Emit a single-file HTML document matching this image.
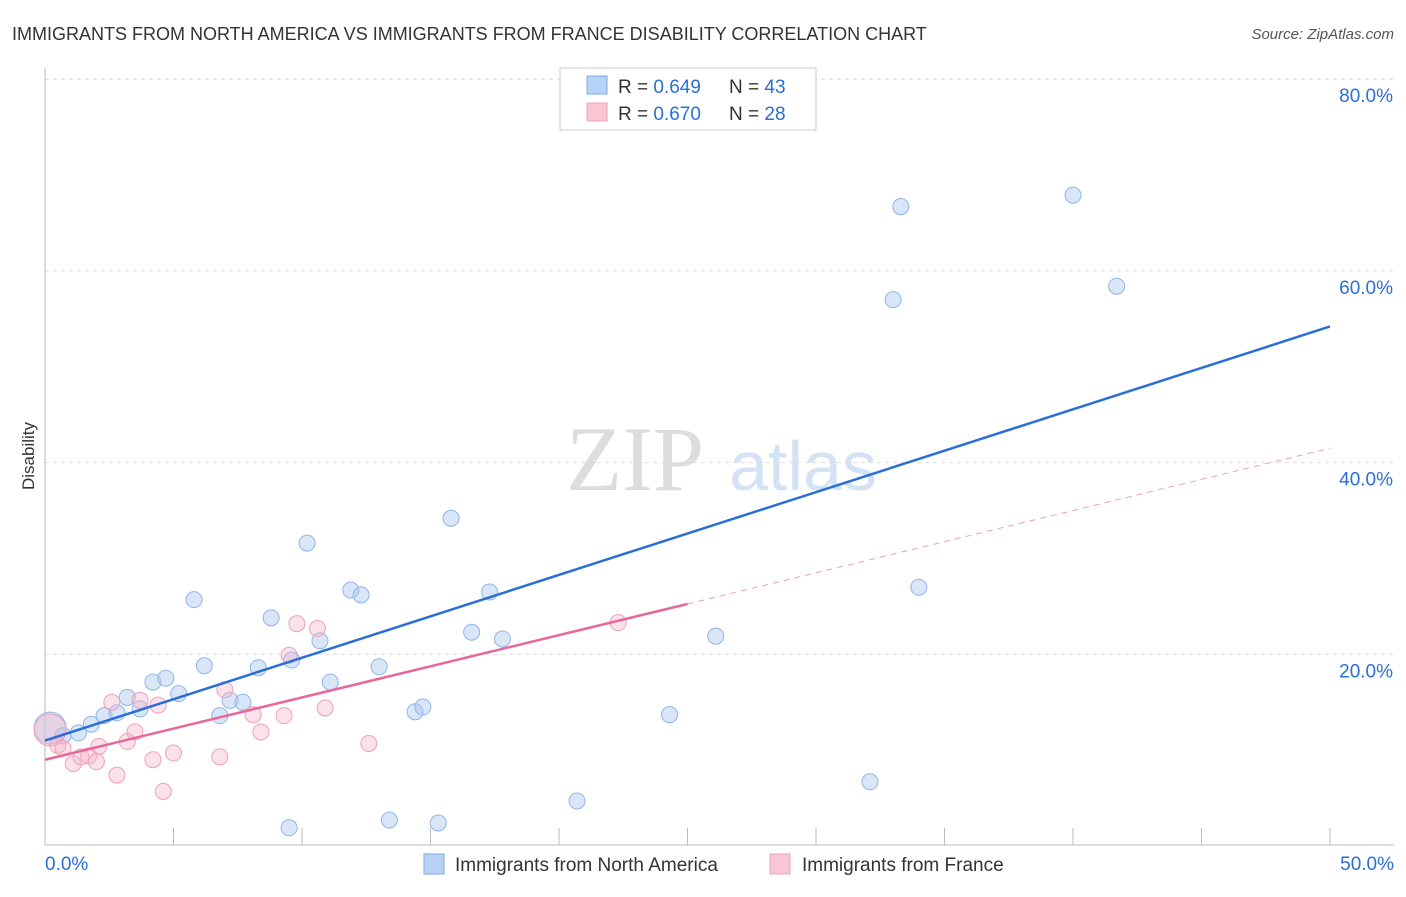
<!DOCTYPE html>
<html><head><meta charset="utf-8"><style>
body{margin:0;background:#fff;font-family:"Liberation Sans",sans-serif;}
</style></head><body>
<svg id="chart" width="1406" height="892" font-family="Liberation Sans, sans-serif">
<text x="12" y="40" font-size="18" fill="#333">IMMIGRANTS FROM NORTH AMERICA VS IMMIGRANTS FROM FRANCE DISABILITY CORRELATION CHART</text>
<text x="1394" y="39" font-size="15" fill="#555" font-style="italic" text-anchor="end">Source: ZipAtlas.com</text>
<text x="34" y="456" font-size="17" fill="#333" text-anchor="middle" transform="rotate(-90 34 456)">Disability</text>
<g><text x="635" y="490" font-size="92" fill="#ddd" style="font-family:'Liberation Serif',serif" text-anchor="middle">ZIP</text><text x="803" y="490" font-size="70" fill="#d3e2f5" text-anchor="middle">atlas</text></g>
<g id="grid"></g><g id="axes"></g><g id="marks"></g>
<g>
<rect x="560" y="68" width="256" height="62" fill="#fff" stroke="#ccc"/>
<rect x="587" y="76" width="20" height="18" fill="#b8d2f5" stroke="#7fa9e0"/>
<rect x="587" y="103" width="20" height="18" fill="#f9c6d6" stroke="#eea2ba"/>
<text x="618" y="93" font-size="19" fill="#333">R = <tspan fill="#2a6fd6">0.649</tspan></text>
<text x="729" y="93" font-size="19" fill="#333">N = <tspan fill="#2a6fd6">43</tspan></text>
<text x="618" y="120" font-size="19" fill="#333">R = <tspan fill="#2a6fd6">0.670</tspan></text>
<text x="729" y="120" font-size="19" fill="#333">N = <tspan fill="#2a6fd6">28</tspan></text>
</g>
<g>
<rect x="424" y="854" width="20" height="20" fill="#b8d2f5" stroke="#7fa9e0"/>
<text x="455" y="871" font-size="19" fill="#333">Immigrants from North America</text>
<rect x="770" y="854" width="20" height="20" fill="#f9c6d6" stroke="#eea2ba"/>
<text x="802" y="871" font-size="19" fill="#333">Immigrants from France</text>
</g>
</svg>
<script>
const yTicks=[20,40,60,80];
const yTickLabels=["20.0%","40.0%","60.0%","80.0%"];
const xTickLabels=["0.0%","50.0%"];
const blueX=[0.2,0.7,1.3,1.8,2.3,2.8,3.2,3.7,4.2,4.7,5.2,5.8,6.2,6.8,7.2,7.7,8.3,8.8,9.6,10.2,10.7,11.1,11.9,12.3,13.0,13.4,14.4,14.7,15.3,15.8,16.6,17.3,17.8,20.7,24.3,26.1,32.1,33.0,33.3,34.0,40.0,41.7,9.5];
const blueY=[12.3,11.5,11.8,12.7,13.6,13.9,15.5,14.3,17.1,17.5,15.9,25.7,18.8,13.6,15.2,15.0,18.6,23.8,19.4,31.6,21.4,17.1,26.7,26.2,18.7,2.7,14.0,14.5,2.4,34.2,22.3,26.5,21.6,4.7,13.7,21.9,6.7,57.0,66.7,27.0,67.9,58.4,1.9];
const pinkX=[0.2,0.5,0.7,1.1,1.4,1.7,2.0,2.1,2.6,2.8,3.2,3.5,3.7,4.2,4.4,4.6,5.0,6.8,7.0,8.1,8.4,9.3,9.5,9.8,10.6,10.9,12.6,22.3];
const pinkY=[12.1,10.5,10.2,8.6,9.3,9.4,8.8,10.4,15.0,7.4,10.9,11.9,15.2,9.0,14.7,5.7,9.7,9.3,16.3,13.7,11.9,13.6,19.9,23.2,22.7,14.4,10.7,23.3];
const blueTrend=[11.0,54.2];
const pinkTrend=[9.0,41.5];
const pinkSolidEnd=25;
const NS="http://www.w3.org/2000/svg";
const sx=v=>45+v*25.7, sy=v=>846-v*9.585;
function mk(p,t,a){const e=document.createElementNS(NS,t);for(const k in a)e.setAttribute(k,a[k]);p.appendChild(e);return e;}
const grid=document.getElementById('grid'),axes=document.getElementById('axes'),marks=document.getElementById('marks');
yTicks.forEach((t,i)=>{
 const g=mk(grid,'line',{x1:45,x2:1394,y1:sy(t),y2:sy(t),stroke:'#ddd','stroke-dasharray':'4,4'});
 
 
 const l=mk(axes,'text',{x:1393,y:sy(t)+23,'font-size':19,fill:'#2a6fd6','text-anchor':'end'});l.textContent=yTickLabels[i];
 
 
});
mk(grid,'line',{x1:45,x2:1394,y1:79,y2:79,stroke:'#ddd','stroke-dasharray':'4,4'});
mk(axes,'line',{x1:45,x2:45,y1:68,y2:845,stroke:'#bbb'});
mk(axes,'line',{x1:45,x2:1394,y1:845,y2:845,stroke:'#bbb'});
for(let i=0;i<=10;i++){mk(axes,'line',{x1:sx(i*5),x2:sx(i*5),y1:828,y2:845,stroke:'#bbb'});}
xTickLabels.forEach((s,i)=>{const l=mk(axes,'text',{x:i?1394:45,y:870,'font-size':19,fill:'#2a6fd6','text-anchor':i?'end':'start'});l.textContent=s;
 
 });
function dots(X,Y,fill,stroke,name){X.forEach((x,i)=>{const c=mk(marks,'circle',{cx:sx(x),cy:sy(Y[i]),r:i==0?16:8,fill:fill,stroke:stroke,'stroke-width':1});
 
 });}
dots(blueX,blueY,'rgba(170,200,240,0.45)','#8fb5ea','point-north-america');
dots(pinkX,pinkY,'rgba(245,180,200,0.4)','#f0a0bb','point-france');
const bl=mk(marks,'line',{x1:sx(0),y1:sy(blueTrend[0]),x2:sx(50),y2:sy(blueTrend[1]),stroke:'#2a6fd6','stroke-width':2.5});


const pv=x=>pinkTrend[0]+(pinkTrend[1]-pinkTrend[0])*x/50;
const pl=mk(marks,'line',{x1:sx(0),y1:sy(pv(0)),x2:sx(pinkSolidEnd),y2:sy(pv(pinkSolidEnd)),stroke:'#e8679a','stroke-width':2.5});


const pd=mk(marks,'line',{x1:sx(pinkSolidEnd),y1:sy(pv(pinkSolidEnd)),x2:sx(50),y2:sy(pv(50)),stroke:'#eaa0bb','stroke-width':1,'stroke-dasharray':'6,5'});


</script>
</body></html>
